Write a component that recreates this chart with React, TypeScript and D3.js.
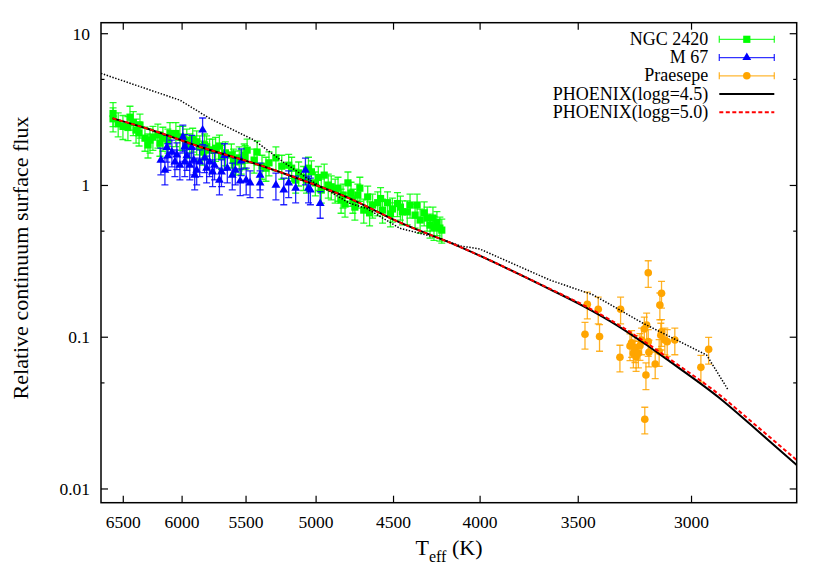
import React from 'react';
import * as d3 from 'd3';

const W = 830;
const H = 581;

// axis ticks
const xTicks = [6500, 6000, 5500, 5000, 4500, 4000, 3500, 3000];
const yTicks = [0.01, 0.1, 1, 10];
const yTickLabels = ['0.01', '0.1', '1', '10'];
const yMinorTicks = [0.05, 0.5, 5];

// NGC 2420: [Teff, flux]
const ngc2420: [number, number][] = [
  [6591, 2.98], [6591, 2.75], [6545, 2.55], [6503, 2.45], [6459, 2.41], [6441, 2.82], [6412, 2.6],
  [6388, 2.32], [6362, 2.22], [6354, 2.5], [6311, 2.05], [6285, 1.85], [6268, 1.99], [6243, 2.08],
  [6201, 2.15], [6184, 1.9], [6159, 2.05], [6117, 1.99], [6100, 2.2], [6051, 2.2], [6018, 2.08],
  [5994, 2.08], [5962, 1.99], [5938, 1.85], [5914, 2.02], [5882, 1.94], [5858, 1.8], [5835, 1.66],
  [5819, 1.85], [5803, 1.8], [5780, 1.71], [5756, 1.71], [5733, 1.76], [5703, 1.82], [5687, 1.56],
  [5657, 1.64], [5611, 1.59], [5595, 1.47], [5581, 1.43], [5551, 1.52], [5536, 1.45], [5514, 1.59],
  [5507, 1.55], [5492, 1.71], [5440, 1.47], [5418, 1.66], [5382, 1.34], [5353, 1.3], [5331, 1.41],
  [5281, 1.52], [5239, 1.34], [5190, 1.36], [5169, 1.3], [5141, 1.085], [5120, 1.21], [5086, 1.13],
  [5066, 1.085], [5052, 1.3], [5032, 1.23], [5005, 1.04], [4985, 1.13], [4965, 0.933], [4945, 1.17],
  [4918, 1.006], [4898, 0.98], [4872, 0.933], [4853, 0.96], [4833, 0.8], [4820, 0.865], [4807, 0.755],
  [4788, 1.04], [4768, 0.89], [4756, 0.8], [4743, 0.72], [4724, 0.865], [4711, 0.96], [4686, 0.688],
  [4661, 0.84], [4649, 0.66], [4630, 0.743], [4598, 0.77], [4580, 0.82], [4568, 0.688], [4537, 0.77],
  [4519, 0.65], [4507, 0.7], [4476, 0.76], [4458, 0.72], [4446, 0.67], [4417, 0.67], [4400, 0.743],
  [4370, 0.638], [4358, 0.743], [4340, 0.592], [4316, 0.66], [4299, 0.61], [4282, 0.548], [4265, 0.61],
  [4259, 0.53], [4242, 0.57], [4225, 0.524], [4214, 0.508],
];

// M 67: [Teff, flux]
const m67: [number, number][] = [
  [6176, 1.47], [6142, 1.26], [6126, 1.78], [6117, 1.57], [6084, 1.66], [6059, 1.43], [6043, 1.59],
  [6018, 1.36], [5994, 2.08], [5978, 1.8], [5978, 1.43], [5962, 1.57], [5938, 1.36], [5922, 1.78],
  [5906, 1.47], [5898, 1.17], [5882, 1.26], [5858, 1.43], [5835, 2.32], [5819, 1.52], [5803, 1.3],
  [5780, 1.43], [5756, 1.23], [5741, 1.36], [5703, 1.085], [5687, 1.23], [5664, 1.57], [5642, 1.3],
  [5604, 1.17], [5581, 1.26], [5544, 1.07], [5536, 1.45], [5499, 1.085], [5470, 1.04], [5396, 1.17],
  [5396, 1.04], [5281, 1.006], [5225, 0.933], [5190, 1.04], [5141, 0.96], [5073, 1.26], [5052, 0.96],
  [5039, 0.933], [4972, 0.76],
];

// Praesepe: [Teff, flux]
const praesepe: [number, number][] = [
  [3468, 0.1045], [3457, 0.165], [3406, 0.153], [3400, 0.101], [3307, 0.0738], [3304, 0.153],
  [3262, 0.0876], [3255, 0.092], [3247, 0.0784], [3240, 0.0852], [3235, 0.0744], [3225, 0.0784],
  [3218, 0.088], [3211, 0.0958], [3199, 0.1132], [3197, 0.0288], [3192, 0.0564], [3189, 0.1203],
  [3182, 0.266], [3182, 0.0935], [3179, 0.0796], [3152, 0.0666], [3135, 0.0804], [3132, 0.163],
  [3128, 0.103], [3125, 0.1946], [3125, 0.1087], [3111, 0.0958], [3101, 0.0935], [3069, 0.0958],
  [2962, 0.0633], [2931, 0.0832],
];

// relative flux errors
const ngcErr = 0.18;
const m67Err = 0.2;
const praesepeErr = 0.2;

// PHOENIX models: [Teff, flux]
const phoenix45: [number, number][] = [
  [6595, 2.77], [6268, 2.34], [5858, 1.8], [5397, 1.36], [5111, 1.1], [4775, 0.82], [4476, 0.58],
  [4111, 0.394], [3637, 0.207], [3476, 0.1605], [3322, 0.1203], [3189, 0.0889], [3089, 0.069],
  [2887, 0.0396], [2759, 0.0257], [2600, 0.0144],
];
const phoenix50: [number, number][] = [
  [6595, 2.77], [6268, 2.34], [5858, 1.8], [5397, 1.36], [5111, 1.1], [4775, 0.82], [4476, 0.58],
  [4111, 0.394], [3637, 0.208], [3476, 0.163], [3322, 0.1228], [3189, 0.0916], [3089, 0.0715],
  [2887, 0.0416], [2759, 0.0272], [2600, 0.0155],
];
// dotted model (no legend entry)
const dottedModel: [number, number][] = [
  [6700, 5.48], [6018, 3.65], [5780, 2.77], [5440, 1.99], [5229, 1.43], [5042, 1.085], [4775, 0.762],
  [4668, 0.706], [4461, 0.522], [4225, 0.448], [4111, 0.4], [4001, 0.381], [3637, 0.238], [3429, 0.19],
  [3204, 0.1235], [2939, 0.0763], [2854, 0.0449],
];

const legendLabels = ['NGC 2420', 'M 67', 'Praesepe', 'PHOENIX(logg=4.5)', 'PHOENIX(logg=5.0)'];

const GREEN = '#00ff00';
const BLUE = '#0000ff';
const ORANGE = '#ffa500';
const RED = '#ff0000';
const FONT = '"Liberation Serif", "DejaVu Serif", serif';

const L = 101, R = 796.7, T = 22.7, B = 502.7;

export default function App() {
  const x = d3.scaleLog().domain([6700, 2600]).range([L, R]);
  const y = d3.scaleLog().domain([0.00812, 11.82]).range([B, T]);

  const line = d3
    .line<[number, number]>()
    .x((d) => x(d[0]))
    .y((d) => y(d[1]))
    .curve(d3.curveMonotoneX);
  const lineLin = d3
    .line<[number, number]>()
    .x((d) => x(d[0]))
    .y((d) => y(d[1]));

  const cap = 3.5;
  const errBars = (data: [number, number][], rel: number, color: string, key: string) =>
    data.map((d, i) => {
      const cx = x(d[0]);
      const y1 = y(d[1] * (1 + rel));
      const y0 = y(d[1] * (1 - rel));
      return (
        <g key={key + i} stroke={color} strokeWidth={1.3} strokeOpacity={0.85}>
          <line x1={cx} x2={cx} y1={y0} y2={y1} />
          <line x1={cx - cap} x2={cx + cap} y1={y0} y2={y0} />
          <line x1={cx - cap} x2={cx + cap} y1={y1} y2={y1} />
        </g>
      );
    });

  const tri = d3.symbol(d3.symbolTriangle, 34)();

  const rowY = (i: number) => 39.3 + i * 18.25;
  const lx0 = 719.3, lx1 = 774.3, lxm = (lx0 + lx1) / 2;

  const legendErr = (i: number, color: string) => (
    <g stroke={color} strokeWidth={1.3} strokeOpacity={0.8}>
      <line x1={lx0} x2={lx1} y1={rowY(i)} y2={rowY(i)} />
      <line x1={lx0} x2={lx0} y1={rowY(i) - 3.5} y2={rowY(i) + 3.5} />
      <line x1={lx1} x2={lx1} y1={rowY(i) - 3.5} y2={rowY(i) + 3.5} />
    </g>
  );

  return (
    <svg
      width={W}
      height={H}
      style={{ position: 'absolute', left: 0, top: 0, background: '#fff' }}
      fontFamily={FONT}
    >
      <defs>
        <clipPath id="plotclip">
          <rect x={L} y={T} width={R - L} height={B - T} />
        </clipPath>
      </defs>
      <rect x={0} y={0} width={W} height={H} fill="#fff" />

      <g clipPath="url(#plotclip)">
        {/* NGC 2420 */}
        {errBars(ngc2420, ngcErr, GREEN, 'ge')}
        {ngc2420.map((d, i) => (
          <rect key={'g' + i} x={x(d[0]) - 3.6} y={y(d[1]) - 3.6} width={7.2} height={7.2} fill={GREEN} />
        ))}
        {/* M 67 */}
        {errBars(m67, m67Err, BLUE, 'be')}
        {m67.map((d, i) => (
          <path key={'b' + i} d={tri as string} transform={`translate(${x(d[0])},${y(d[1])})`} fill={BLUE} />
        ))}
        {/* Praesepe */}
        {errBars(praesepe, praesepeErr, ORANGE, 'oe')}
        {praesepe.map((d, i) => (
          <circle key={'o' + i} cx={x(d[0])} cy={y(d[1])} r={3.8} fill={ORANGE} />
        ))}

        <path d={lineLin(dottedModel) as string} fill="none" stroke="#000" strokeWidth={1.5} strokeDasharray="1.4,1.6" />
        <path d={line(phoenix45) as string} fill="none" stroke="#000" strokeWidth={2} />
        <path d={line(phoenix50) as string} fill="none" stroke={RED} strokeWidth={2} strokeDasharray="4,2.5" />
      </g>

      {/* frame */}
      <rect x={L} y={T} width={R - L} height={B - T} fill="none" stroke="#000" strokeWidth={1.5} />

      {/* x ticks */}
      {xTicks.map((t) => (
        <g key={'xt' + t} stroke="#000" strokeWidth={1.2}>
          <line x1={x(t)} x2={x(t)} y1={B} y2={B - 7} />
          <line x1={x(t)} x2={x(t)} y1={T} y2={T + 7} />
        </g>
      ))}
      {xTicks.map((t) => (
        <text key={'xl' + t} x={x(t)} y={528.3} textAnchor="middle" fontSize={17.5} fill="#000">
          {t}
        </text>
      ))}

      {/* y ticks */}
      {yTicks.map((t) => (
        <g key={'yt' + t} stroke="#000" strokeWidth={1.2}>
          <line x1={L} x2={L + 7} y1={y(t)} y2={y(t)} />
          <line x1={R} x2={R - 7} y1={y(t)} y2={y(t)} />
        </g>
      ))}
      {yMinorTicks.map((t) => (
        <g key={'ym' + t} stroke="#000" strokeWidth={1.2}>
          <line x1={L} x2={L + 3.5} y1={y(t)} y2={y(t)} />
          <line x1={R} x2={R - 3.5} y1={y(t)} y2={y(t)} />
        </g>
      ))}
      {yTicks.map((t, i) => (
        <text key={'yl' + t} x={90} y={y(t) + 6} textAnchor="end" fontSize={17.5} fill="#000">
          {yTickLabels[i]}
        </text>
      ))}

      {/* axis titles */}
      <text x={449} y={555} textAnchor="middle" fontSize={22} fill="#000">
        T<tspan dy={6.5} fontSize={16}>eff</tspan>
        <tspan dy={-6.5}> (K)</tspan>
      </text>
      <text
        transform={`translate(28,258) rotate(-90)`}
        textAnchor="middle"
        fontSize={22}
        fill="#000"
      >
        Relative continuum surface flux
      </text>

      {/* legend */}
      {legendLabels.map((lab, i) => (
        <text key={'lg' + i} x={708.3} y={rowY(i) + 5.5} textAnchor="end" fontSize={18} fill="#000">
          {lab}
        </text>
      ))}
      {legendErr(0, GREEN)}
      <rect x={lxm - 3.6} y={rowY(0) - 3.6} width={7.2} height={7.2} fill={GREEN} />
      {legendErr(1, BLUE)}
      <path d={tri as string} transform={`translate(${lxm},${rowY(1)})`} fill={BLUE} />
      {legendErr(2, ORANGE)}
      <circle cx={lxm} cy={rowY(2)} r={3.8} fill={ORANGE} />
      <line x1={lx0} x2={lx1} y1={rowY(3)} y2={rowY(3)} stroke="#000" strokeWidth={2} />
      <line x1={lx0} x2={lx1} y1={rowY(4)} y2={rowY(4)} stroke={RED} strokeWidth={2} strokeDasharray="4,2.5" />
    </svg>
  );
}
